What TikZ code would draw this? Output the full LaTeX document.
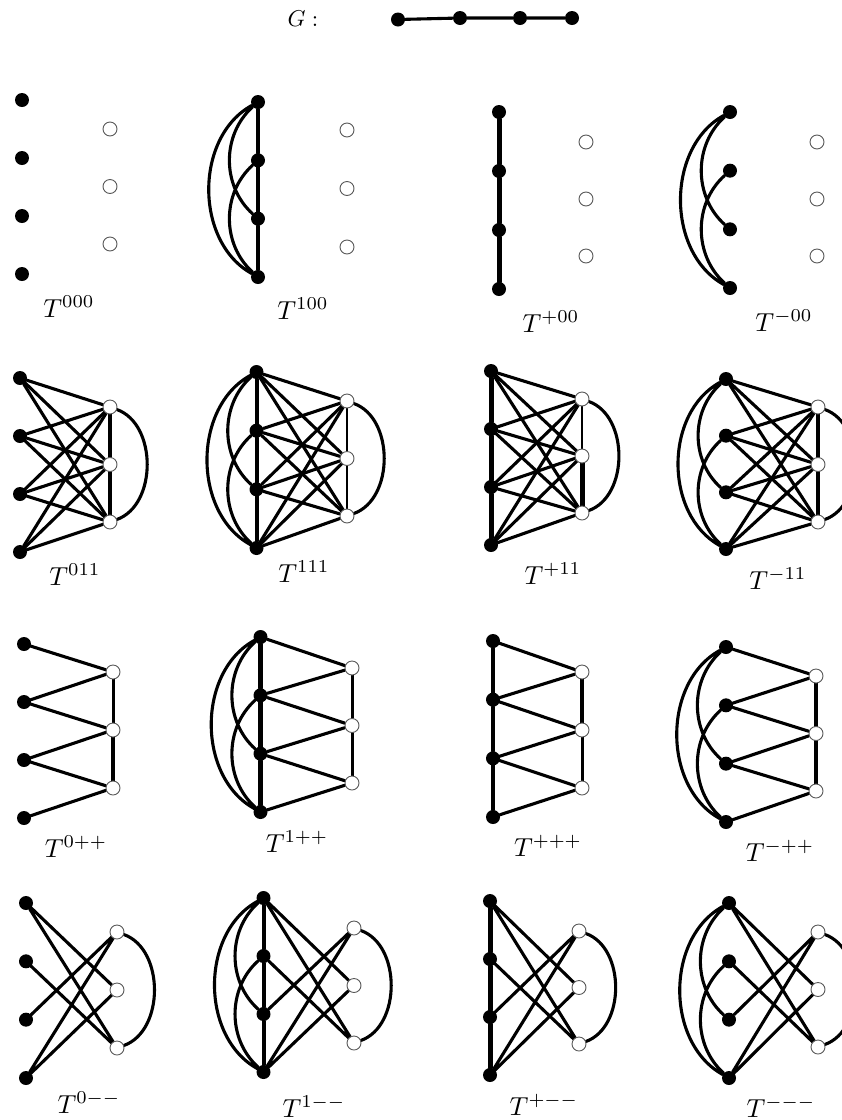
\documentclass[tikz,border=0pt]{standalone}
\pgfdeclarelayer{edges}
\pgfsetlayers{edges,main}
\tikzset{
  bn/.style={circle,fill=black,inner sep=0pt,minimum size=14pt},
  wn/.style={circle,fill=white,draw=black!65,line width=0.9pt,inner sep=0pt,minimum size=14pt},
  edge/.style={line width=3.1pt,line cap=round},
  barc/.style={bend right=#1},
  warc/.style={bend left=70},
  lbl/.style={anchor=base,inner sep=0pt,scale=2.6},
}
\newcommand\pnodes[7]{%
  \foreach \i in {1,...,4}{\node[bn] (#1a\i) at (#2,{#3+(\i-1)*(#4-#3)/3}) {};}
  \foreach \i in {1,2,3}{\node[wn] (#1b\i) at (#5,{#6+(\i-1)*(#7-#6)/2}) {};}
}
\newcommand\BBpath[2]{\draw[edge,line width=#2] (#1a1)--(#1a2)--(#1a3)--(#1a4);}
\newcommand\BBarcs[1]{\draw[edge] (#1a1) to[barc=61] (#1a4) (#1a1) to[barc=48] (#1a3) (#1a2) to[barc=48] (#1a4);}
\newcommand\BWall[1]{\foreach \i in {1,...,4}{\foreach \j in {1,2,3}{\draw[edge] (#1a\i)--(#1b\j);}}}
\newcommand\BWplus[1]{\draw[edge] (#1a1)--(#1b1) (#1a2)--(#1b1) (#1a2)--(#1b2) (#1a3)--(#1b2) (#1a3)--(#1b3) (#1a4)--(#1b3);}
\newcommand\BWminus[1]{\draw[edge] (#1a1)--(#1b2) (#1a1)--(#1b3) (#1a2)--(#1b3) (#1a3)--(#1b1) (#1a4)--(#1b1) (#1a4)--(#1b2);}
\newcommand\WWpath[3]{\draw[edge,line width=#2] (#1b1)--(#1b2); \draw[edge,line width=#3] (#1b2)--(#1b3);}
\newcommand\WWarc[1]{\draw[edge] (#1b1) to[warc] (#1b3);}
\begin{document}
\begin{tikzpicture}[x=1pt,y=-1pt]
\useasboundingbox (0,0) rectangle (842,1120);
% G
\node[lbl,scale=0.88] (glbl) at (303,26) {$G:$};
\node[bn] (g1) at (398,19.5) {};
\node[bn] (g2) at (460,18) {};
\node[bn] (g3) at (520,18) {};
\node[bn] (g4) at (572,18) {};
% nodes
\pnodes{sAA}{22}{100}{274}{110}{129}{244}
\pnodes{sAB}{258}{102}{277}{347}{130}{247}
\pnodes{sAC}{499}{112}{289}{586}{142}{256}
\pnodes{sAD}{730}{112}{288}{817}{142}{256}
\pnodes{sBA}{20}{378}{552}{110}{407}{522}
\pnodes{sBB}{256.5}{372}{548}{347}{401}{516}
\pnodes{sBC}{491}{371}{545}{582}{399}{513}
\pnodes{sBD}{726}{379}{549}{818}{407}{522}
\pnodes{sCA}{24}{644}{818}{113}{672}{788}
\pnodes{sCB}{260.5}{637}{812}{352}{668}{783}
\pnodes{sCC}{493}{641}{817}{582}{672}{788}
\pnodes{sCD}{726}{647}{822}{816}{676}{791}
\pnodes{sDA}{26}{903}{1078}{117}{932}{1048}
\pnodes{sDB}{263.5}{898}{1072}{354}{928}{1043}
\pnodes{sDC}{490}{901}{1075}{579}{931}{1044}
\pnodes{sDD}{729}{903}{1078}{818}{932}{1047}
% labels
\node[lbl] (lAA) at (69,317) {$T^{000}$};
\node[lbl] (lAB) at (303,319) {$T^{100}$};
\node[lbl] (lAC) at (551,332) {$T^{+00}$};
\node[lbl] (lAD) at (784,331) {$T^{-00}$};
\node[lbl] (lBA) at (75,585) {$T^{011}$};
\node[lbl] (lBB) at (304,582) {$T^{111}$};
\node[lbl] (lBC) at (553,584) {$T^{+11}$};
\node[lbl] (lBD) at (778,589) {$T^{-11}$};
\node[lbl] (lCA) at (76,857) {$T^{0++}$};
\node[lbl] (lCB) at (297,852) {$T^{1++}$};
\node[lbl] (lCC) at (548,856) {$T^{+++}$};
\node[lbl] (lCD) at (780,861) {$T^{-++}$};
\node[lbl] (lDA) at (89,1113) {$T^{0--}$};
\node[lbl] (lDB) at (314,1117) {$T^{1--}$};
\node[lbl] (lDC) at (544,1115) {$T^{+--}$};
\node[lbl] (lDD) at (781,1117) {$T^{---}$};
\begin{pgfonlayer}{edges}
\draw[edge] (g1)--(g2)--(g3)--(g4);
% row 1
\BBpath{sAB}{3.1pt}\BBarcs{sAB}
\BBpath{sAC}{5pt}
\BBarcs{sAD}
% row 2
\BWall{sBA}\WWpath{sBA}{3.5pt}{4.5pt}\WWarc{sBA}
\BBpath{sBB}{4pt}\BBarcs{sBB}\BWall{sBB}\WWpath{sBB}{2.4pt}{2.4pt}\WWarc{sBB}
\BBpath{sBC}{5pt}\BWall{sBC}\WWpath{sBC}{2.4pt}{5pt}\WWarc{sBC}
\BBarcs{sBD}\BWall{sBD}\WWpath{sBD}{4pt}{4pt}\WWarc{sBD}
% row 3
\BWplus{sCA}\WWpath{sCA}{3pt}{4.5pt}
\BBpath{sCB}{5pt}\BBarcs{sCB}\BWplus{sCB}\WWpath{sCB}{3pt}{3pt}
\BBpath{sCC}{3.8pt}\BWplus{sCC}\WWpath{sCC}{4.5pt}{3pt}
\BBarcs{sCD}\BWplus{sCD}\WWpath{sCD}{4.5pt}{4.5pt}
% row 4
\BWminus{sDA}\WWarc{sDA}
\BBpath{sDB}{4pt}\BBarcs{sDB}\BWminus{sDB}\WWarc{sDB}
\BBpath{sDC}{5pt}\BWminus{sDC}\WWarc{sDC}
\BBarcs{sDD}\BWminus{sDD}\WWarc{sDD}
\end{pgfonlayer}
\end{tikzpicture}
\end{document}
